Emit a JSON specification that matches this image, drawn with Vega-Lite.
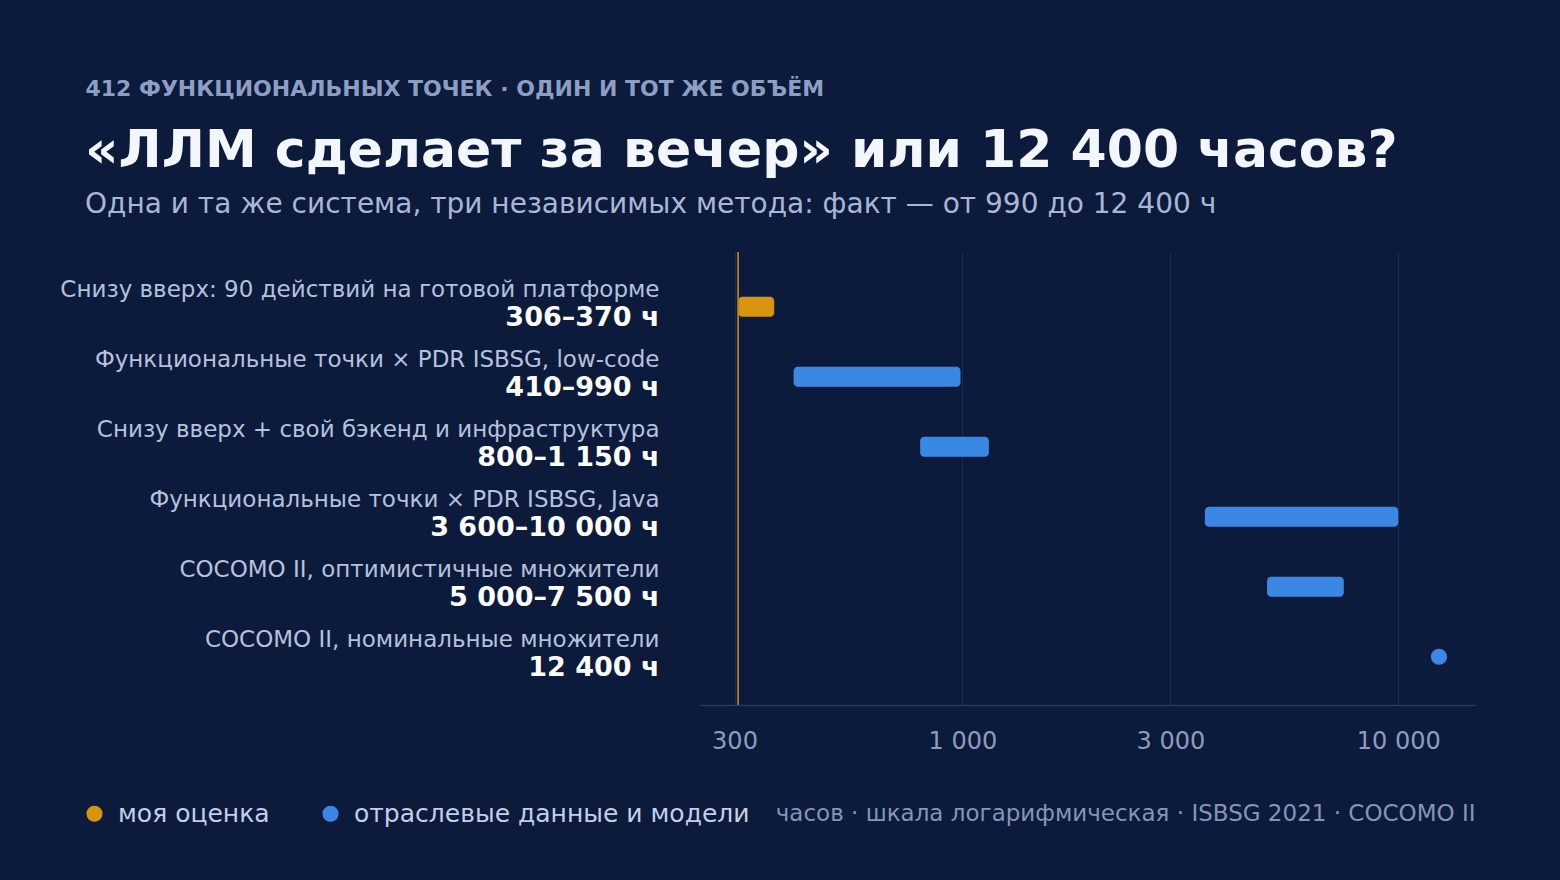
{
  "$schema": "https://vega.github.io/schema/vega-lite/v6.json",
  "background": "#0c1a3b",
  "autosize": {"type": "none"},
  "padding": {"left": 700, "top": 252, "right": 85, "bottom": 175},
  "width": 775,
  "height": 453,
  "config": {
    "font": "DejaVu Sans",
    "view": {"stroke": null}
  },
  "title": {
    "text": "«ЛЛМ сделает за вечер» или 12 400 часов?",
    "subtitle": "Одна и та же система, три независимых метода: факт — от 990 до 12 400 ч",
    "anchor": "start",
    "frame": "group",
    "dx": -615,
    "dy": 174,
    "offset": 31,
    "fontSize": 52,
    "fontWeight": "bold",
    "color": "#f3f6fc",
    "subtitleFontSize": 28,
    "subtitleColor": "#a8b7d5",
    "subtitlePadding": 13
  },
  "data": {
    "values": [
      {"label": "Снизу вверх: 90 действий на готовой платформе", "range": "306–370 ч", "start": 306, "end": 370, "kind": "моя оценка"},
      {"label": "Функциональные точки × PDR ISBSG, low-code", "range": "410–990 ч", "start": 410, "end": 990, "kind": "отраслевые данные и модели"},
      {"label": "Снизу вверх + свой бэкенд и инфраструктура", "range": "800–1 150 ч", "start": 800, "end": 1150, "kind": "отраслевые данные и модели"},
      {"label": "Функциональные точки × PDR ISBSG, Java", "range": "3 600–10 000 ч", "start": 3600, "end": 10000, "kind": "отраслевые данные и модели"},
      {"label": "COCOMO II, оптимистичные множители", "range": "5 000–7 500 ч", "start": 5000, "end": 7500, "kind": "отраслевые данные и модели"},
      {"label": "COCOMO II, номинальные множители", "range": "12 400 ч", "start": 12400, "end": 12400, "kind": "отраслевые данные и модели"}
    ]
  },
  "layer": [
    {
      "layer": [
        {
          "mark": {"type": "bar", "height": 20, "cornerRadius": 4},
          "encoding": {
            "y": {
              "field": "label", "type": "nominal", "sort": null,
              "scale": {"type": "band", "paddingInner": 0, "paddingOuter": 0.236, "align": 0.6},
              "axis": {
                "orient": "left", "title": null, "domain": false, "ticks": false,
                "labelFontSize": 23, "labelColor": "#b4c2dc", "labelPadding": 41,
                "labelLimit": 700, "labelOffset": -17, "labelAlign": "right"
              }
            },
            "x": {
              "field": "start", "type": "quantitative",
              "scale": {"type": "log", "domain": [250, 15000], "nice": false},
              "axis": {
                "values": [300, 1000, 3000, 10000],
                "labelExpr": "replace(format(datum.value, ','), ',', ' ')",
                "labelFontSize": 24, "labelColor": "#8c9cbf", "labelPadding": 24,
                "ticks": false,
                "domainColor": "#27385e", "domainWidth": 1.5,
                "gridColor": "#1d2c4e", "gridWidth": 1,
                "title": "часов · шкала логарифмическая · ISBSG 2021 · COCOMO II",
                "titleFontSize": 23, "titleFontWeight": "normal", "titleColor": "#8595b8",
                "titleAnchor": "end", "titleAlign": "right", "titleX": 775, "titleY": 108,
                "titleBaseline": "middle"
              }
            },
            "x2": {"field": "end"},
            "color": {
              "field": "kind", "type": "nominal",
              "scale": {"domain": ["моя оценка", "отраслевые данные и модели"], "range": ["#d8930f", "#3b88e4"]},
              "legend": {
                "orient": "none", "legendX": -618, "legendY": 549,
                "direction": "horizontal", "title": null,
                "symbolType": "circle", "symbolSize": 260, "symbolOpacity": 1,
                "labelFontSize": 25, "labelColor": "#c3cfe6", "labelOffset": 11,
                "columnPadding": 48, "labelLimit": 500
              }
            }
          }
        },
        {
          "transform": [{"filter": "datum.start == datum.end"}],
          "mark": {"type": "circle", "size": 260, "opacity": 1},
          "encoding": {
            "y": {"field": "label", "type": "nominal", "sort": null},
            "x": {"field": "start", "type": "quantitative"},
            "color": {"field": "kind", "type": "nominal"}
          }
        },
        {
          "mark": {"type": "rule", "color": "#b8862a", "strokeWidth": 1.5, "opacity": 0.45},
          "encoding": {"x": {"datum": 306}}
        }
      ]
    },
    {
      "mark": {"type": "bar", "opacity": 0},
      "encoding": {
        "y": {
          "field": "range", "type": "nominal", "sort": null,
          "scale": {"type": "band", "paddingInner": 0, "paddingOuter": 0.236, "align": 0.6},
          "axis": {
            "orient": "left", "domain": false, "ticks": false, "grid": false,
            "labelFontSize": 27, "labelFontWeight": "bold", "labelColor": "#ffffff",
            "labelPadding": 41, "labelLimit": 500, "labelOffset": 11, "labelAlign": "right",
            "title": "412 ФУНКЦИОНАЛЬНЫХ ТОЧЕК · ОДИН И ТОТ ЖЕ ОБЪЁМ",
            "titleAngle": 0, "titleAlign": "left", "titleBaseline": "alphabetic",
            "titleX": -615, "titleY": -157,
            "titleFontSize": 22, "titleFontWeight": "bold", "titleColor": "#8d9ec3"
          }
        }
      }
    }
  ],
  "resolve": {"scale": {"y": "independent"}, "axis": {"y": "independent"}}
}
